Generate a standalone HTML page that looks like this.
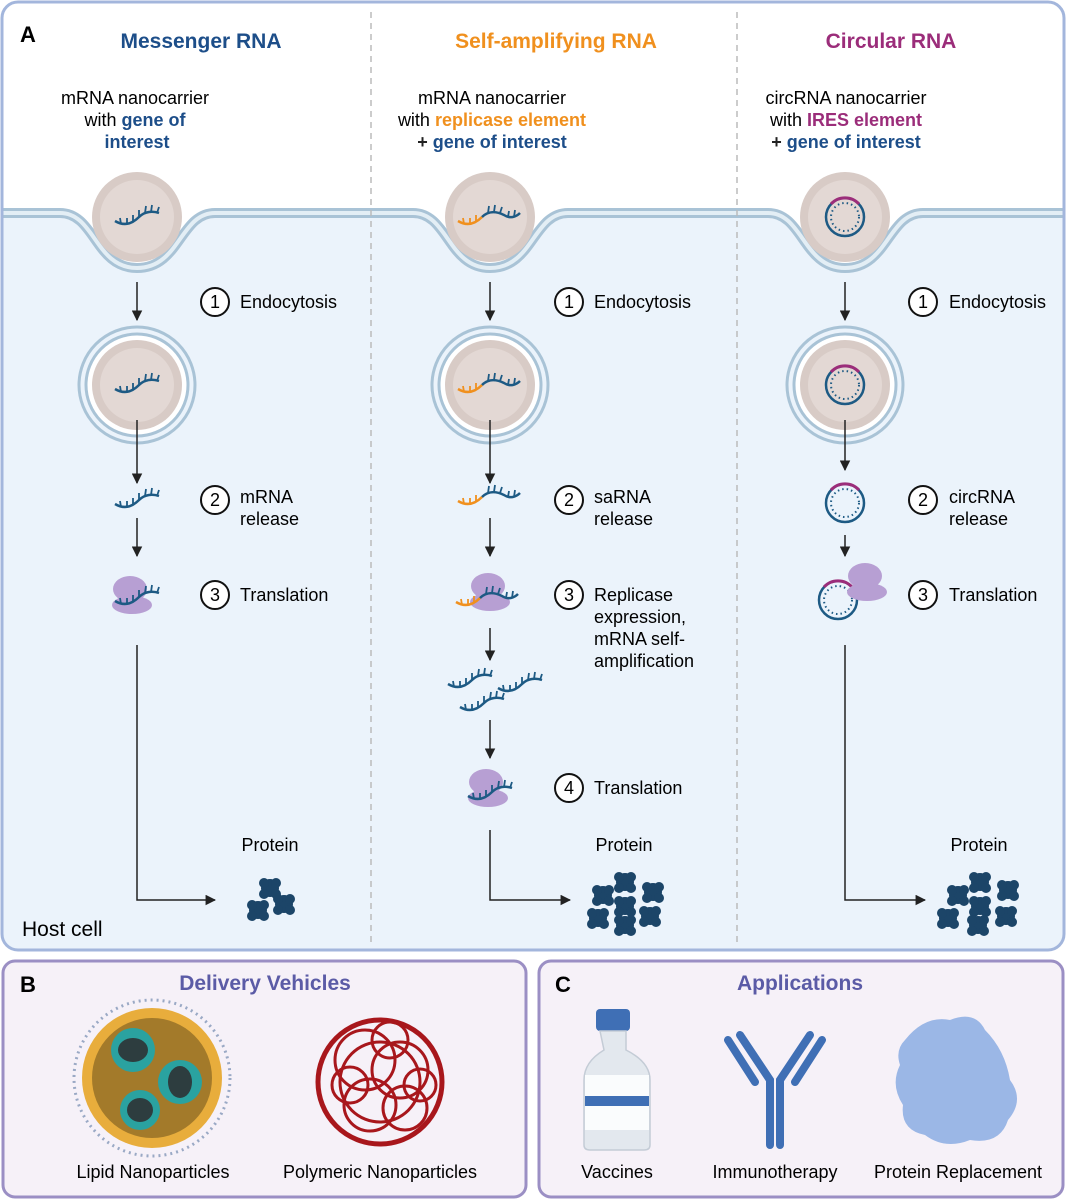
<!DOCTYPE html>
<html><head><meta charset="utf-8"><style>
html,body{margin:0;padding:0;background:#fff}
svg{display:block}
text{font-family:"Liberation Sans",sans-serif}
</style></head><body>
<svg width="1067" height="1200" viewBox="0 0 1067 1200" xmlns="http://www.w3.org/2000/svg">
<defs>
<marker id="ah" viewBox="0 0 10 10" refX="9" refY="5" markerWidth="7" markerHeight="7" orient="auto"><path d="M0,0 L10,5 L0,10 z" fill="#222"/></marker>
<clipPath id="pa"><rect x="2" y="2" width="1062" height="948" rx="16"/></clipPath>
<g id="rna"><path d="M-22,4 C-12,10 -4,6 2,0 C8,-6 16,-6 22,-4" fill="none" stroke="#1d5a84" stroke-width="2.5"/>
<path d="M-16,7 l-1,-6 M-10,7 l0,-6 M-4,4 l0,-6 M2,0 l0,-7 M8,-4 l1,-7 M14,-5 l1,-7 M20,-4 l2,-6" stroke="#1d5a84" stroke-width="1.8"/></g>
<g id="rnaO"><path d="M-22,4 C-12,10 -4,6 2,0" fill="none" stroke="#f0901e" stroke-width="2.5"/>
<path d="M-16,7 l-1,-6 M-10,7 l0,-6 M-4,4 l0,-6" stroke="#f0901e" stroke-width="1.8"/>
<path d="M2,0 C8,-6 16,-6 24,-2 C30,2 36,0 40,-4" fill="none" stroke="#1d5a84" stroke-width="2.5"/>
<path d="M8,-4 l1,-7 M14,-5 l1,-7 M20,-4 l2,-6 M28,0 l1,-6 M34,0 l1,-7" stroke="#1d5a84" stroke-width="1.8"/></g>
<g id="circ"><circle r="19" fill="none" stroke="#1d5a84" stroke-width="2.5"/><path d="M-14,-13 A19,19 0 0 1 14,-13" fill="none" stroke="#9b2d7a" stroke-width="3"/><circle r="14" fill="none" stroke="#1d5a84" stroke-width="2" stroke-dasharray="1.5 3"/></g>
<g id="np"><circle r="45" fill="#d8cbc6"/><circle r="37" fill="#e3d8d4"/></g>
<g id="endo"><circle r="58" fill="none" stroke="#a9c3d6" stroke-width="3"/><circle r="51" fill="#fff" stroke="#a9c3d6" stroke-width="3"/><use href="#np"/></g>
<g id="ribo"><ellipse cx="0" cy="-6" rx="17" ry="13" fill="#b79fd3"/><ellipse cx="2" cy="10" rx="20" ry="9" fill="#b79fd3"/></g>
<g id="prot"><circle r="9" fill="#1c4568"/><circle cx="-6" cy="-5" r="5" fill="#1c4568"/><circle cx="6" cy="-5" r="5" fill="#1c4568"/><circle cx="6" cy="6" r="5" fill="#1c4568"/><circle cx="-6" cy="6" r="5" fill="#1c4568"/></g>
</defs>

<!-- Panel A -->
<rect x="2" y="2" width="1062" height="948" rx="16" fill="#fff"/>
<g clip-path="url(#pa)">
<path d="M0,213 H60 C95,213 95,268 137,268 C180,268 180,213 215,213 H413 C448,213 448,268 490,268 C533,268 533,213 568,213 H768 C803,213 803,268 845,268 C888,268 888,213 923,213 H1067 V960 H0 Z" fill="#ebf3fb"/>
<path d="M0,213 H60 C95,213 95,268 137,268 C180,268 180,213 215,213 H413 C448,213 448,268 490,268 C533,268 533,213 568,213 H768 C803,213 803,268 845,268 C888,268 888,213 923,213 H1067" fill="none" stroke="#a9c3d6" stroke-width="10"/>
<path d="M0,213 H60 C95,213 95,268 137,268 C180,268 180,213 215,213 H413 C448,213 448,268 490,268 C533,268 533,213 568,213 H768 C803,213 803,268 845,268 C888,268 888,213 923,213 H1067" fill="none" stroke="#e3eef5" stroke-width="4"/>
</g>
<line x1="371" y1="12" x2="371" y2="945" stroke="#bbb" stroke-width="1.5" stroke-dasharray="6 5"/>
<line x1="737" y1="12" x2="737" y2="945" stroke="#bbb" stroke-width="1.5" stroke-dasharray="6 5"/>
<rect x="2" y="2" width="1062" height="948" rx="16" fill="none" stroke="#a3b6dc" stroke-width="3"/>

<text x="20" y="42" font-size="22" font-weight="bold">A</text>
<text x="201" y="48" font-size="21" font-weight="bold" fill="#1d4e89" text-anchor="middle">Messenger RNA</text>
<text x="556" y="48" font-size="21" font-weight="bold" fill="#f0901e" text-anchor="middle">Self-amplifying RNA</text>
<text x="891" y="48" font-size="21" font-weight="bold" fill="#9b2d7a" text-anchor="middle">Circular RNA</text>

<g font-size="18" text-anchor="middle">
<text x="135" y="104">mRNA nanocarrier</text>
<text x="135" y="126">with <tspan font-weight="bold" fill="#1d4e89">gene of</tspan></text>
<text x="137" y="148" font-weight="bold" fill="#1d4e89">interest</text>
<text x="492" y="104">mRNA nanocarrier</text>
<text x="492" y="126">with <tspan font-weight="bold" fill="#f0901e">replicase element</tspan></text>
<text x="492" y="148" font-weight="bold"><tspan fill="#222">+ </tspan><tspan fill="#1d4e89">gene of interest</tspan></text>
<text x="846" y="104">circRNA nanocarrier</text>
<text x="846" y="126">with <tspan font-weight="bold" fill="#9b2d7a">IRES element</tspan></text>
<text x="846" y="148" font-weight="bold"><tspan fill="#222">+ </tspan><tspan fill="#1d4e89">gene of interest</tspan></text>
</g>

<!-- nanocarriers top -->
<use href="#np" x="137" y="217"/><use href="#rna" x="137" y="217"/>
<use href="#np" x="490" y="217"/><use href="#rnaO" x="480" y="217"/>
<use href="#np" x="845" y="217"/><use href="#circ" x="845" y="217"/>

<!-- endosomes -->
<use href="#endo" x="137" y="385"/><use href="#rna" x="137" y="385"/>
<use href="#endo" x="490" y="385"/><use href="#rnaO" x="480" y="385"/>
<use href="#endo" x="845" y="385"/><use href="#circ" x="845" y="385"/>

<!-- arrows -->
<g stroke="#222" stroke-width="1.5" fill="none" marker-end="url(#ah)">
<line x1="137" y1="282" x2="137" y2="320"/>
<line x1="137" y1="420" x2="137" y2="483"/>
<line x1="137" y1="518" x2="137" y2="556"/>
<path d="M137,645 V900 H215"/>
<line x1="490" y1="282" x2="490" y2="320"/>
<line x1="490" y1="420" x2="490" y2="483"/>
<line x1="490" y1="518" x2="490" y2="556"/>
<line x1="490" y1="628" x2="490" y2="660"/>
<line x1="490" y1="720" x2="490" y2="758"/>
<path d="M490,830 V900 H570"/>
<line x1="845" y1="282" x2="845" y2="320"/>
<line x1="845" y1="420" x2="845" y2="470"/>
<line x1="845" y1="535" x2="845" y2="556"/>
<path d="M845,645 V900 H925"/>
</g>

<!-- step markers -->
<g font-size="18">
<circle cx="215" cy="302" r="14" fill="#fff" stroke="#111" stroke-width="2"/><text x="215" y="308" text-anchor="middle">1</text><text x="240" y="308">Endocytosis</text>
<circle cx="215" cy="500" r="14" fill="#fff" stroke="#111" stroke-width="2"/><text x="215" y="506" text-anchor="middle">2</text><text x="240" y="503">mRNA</text><text x="240" y="525">release</text>
<circle cx="215" cy="595" r="14" fill="#fff" stroke="#111" stroke-width="2"/><text x="215" y="601" text-anchor="middle">3</text><text x="240" y="601">Translation</text>
<text x="270" y="851" text-anchor="middle">Protein</text>

<circle cx="569" cy="302" r="14" fill="#fff" stroke="#111" stroke-width="2"/><text x="569" y="308" text-anchor="middle">1</text><text x="594" y="308">Endocytosis</text>
<circle cx="569" cy="500" r="14" fill="#fff" stroke="#111" stroke-width="2"/><text x="569" y="506" text-anchor="middle">2</text><text x="594" y="503">saRNA</text><text x="594" y="525">release</text>
<circle cx="569" cy="595" r="14" fill="#fff" stroke="#111" stroke-width="2"/><text x="569" y="601" text-anchor="middle">3</text><text x="594" y="601">Replicase</text><text x="594" y="623">expression,</text><text x="594" y="645">mRNA self-</text><text x="594" y="667">amplification</text>
<circle cx="569" cy="788" r="14" fill="#fff" stroke="#111" stroke-width="2"/><text x="569" y="794" text-anchor="middle">4</text><text x="594" y="794">Translation</text>
<text x="624" y="851" text-anchor="middle">Protein</text>

<circle cx="923" cy="302" r="14" fill="#fff" stroke="#111" stroke-width="2"/><text x="923" y="308" text-anchor="middle">1</text><text x="949" y="308">Endocytosis</text>
<circle cx="923" cy="500" r="14" fill="#fff" stroke="#111" stroke-width="2"/><text x="923" y="506" text-anchor="middle">2</text><text x="949" y="503">circRNA</text><text x="949" y="525">release</text>
<circle cx="923" cy="595" r="14" fill="#fff" stroke="#111" stroke-width="2"/><text x="923" y="601" text-anchor="middle">3</text><text x="949" y="601">Translation</text>
<text x="979" y="851" text-anchor="middle">Protein</text>
</g>
<text x="22" y="936" font-size="21">Host cell</text>

<!-- col1 items -->
<use href="#rna" x="137" y="500"/>
<use href="#ribo" x="130" y="595"/><use href="#rna" x="137" y="597"/>
<use href="#prot" x="258" y="910"/><use href="#prot" x="284" y="904"/><use href="#prot" x="270" y="888"/>
<!-- col2 items -->
<use href="#rnaO" x="480" y="497"/>
<use href="#ribo" x="488" y="592"/><use href="#rnaO" x="478" y="598"/>
<use href="#rna" x="470" y="680"/><use href="#rna" x="520" y="684"/><use href="#rna" x="482" y="703"/>
<use href="#ribo" x="486" y="788"/><use href="#rna" x="490" y="792"/>
<use href="#prot" x="603" y="895"/><use href="#prot" x="625" y="882"/><use href="#prot" x="653" y="892"/><use href="#prot" x="625" y="906"/><use href="#prot" x="598" y="918"/><use href="#prot" x="650" y="916"/><use href="#prot" x="625" y="925"/>
<!-- col3 items -->
<use href="#circ" x="845" y="503"/>
<use href="#circ" x="838" y="600"/><use href="#ribo" x="865" y="582"/>
<use href="#prot" x="958" y="895"/><use href="#prot" x="980" y="882"/><use href="#prot" x="1008" y="890"/><use href="#prot" x="980" y="906"/><use href="#prot" x="948" y="918"/><use href="#prot" x="1006" y="916"/><use href="#prot" x="978" y="925"/>

<!-- Panel B -->
<rect x="3" y="961" width="523" height="236" rx="12" fill="#f6f1f8" stroke="#9b8fc4" stroke-width="3"/>
<text x="20" y="992" font-size="22" font-weight="bold">B</text>
<text x="265" y="990" font-size="21" font-weight="bold" fill="#5b5ba6" text-anchor="middle">Delivery Vehicles</text>
<circle cx="152" cy="1078" r="78" fill="none" stroke="#9aa9c5" stroke-width="3" stroke-dasharray="2 4"/>
<circle cx="152" cy="1078" r="70" fill="#e8ad3c"/>
<circle cx="152" cy="1078" r="60" fill="#a37a2a"/>
<circle cx="133" cy="1050" r="22" fill="#2aa2a0"/><ellipse cx="133" cy="1050" rx="15" ry="12" fill="#2d3d3f"/>
<circle cx="180" cy="1082" r="22" fill="#2aa2a0"/><ellipse cx="180" cy="1082" rx="12" ry="16" fill="#2d3d3f"/>
<circle cx="140" cy="1110" r="20" fill="#2aa2a0"/><ellipse cx="140" cy="1110" rx="13" ry="12" fill="#2d3d3f"/>
<g fill="none" stroke="#a8171c" stroke-width="3">
<circle cx="380" cy="1082" r="62" stroke-width="5"/>
<circle cx="365" cy="1060" r="30"/><circle cx="400" cy="1070" r="28"/><circle cx="370" cy="1105" r="26"/><circle cx="405" cy="1108" r="22"/>
<circle cx="350" cy="1085" r="18"/><circle cx="390" cy="1040" r="18"/><circle cx="420" cy="1085" r="16"/><circle cx="380" cy="1082" r="40"/>
</g>
<text x="153" y="1178" font-size="18" text-anchor="middle">Lipid Nanoparticles</text>
<text x="380" y="1178" font-size="18" text-anchor="middle">Polymeric Nanoparticles</text>

<!-- Panel C -->
<rect x="539" y="961" width="524" height="236" rx="12" fill="#f6f1f8" stroke="#9b8fc4" stroke-width="3"/>
<text x="555" y="992" font-size="22" font-weight="bold">C</text>
<text x="800" y="990" font-size="21" font-weight="bold" fill="#5b5ba6" text-anchor="middle">Applications</text>
<rect x="596" y="1009" width="34" height="22" rx="4" fill="#3f6fb5"/>
<path d="M600,1031 H626 V1050 Q650,1062 650,1080 V1145 Q650,1150 644,1150 H590 Q584,1150 584,1145 V1080 Q584,1062 604,1050 Z" fill="#e3e8ee" stroke="#c4ccd6" stroke-width="1.5"/>
<rect x="585" y="1075" width="64" height="55" fill="#fafcfd"/>
<rect x="585" y="1096" width="64" height="10" fill="#3f6fb5"/>
<g stroke="#3f6fb5" stroke-linecap="round" fill="none">
<path d="M770,1145 V1080 L740,1035 M780,1145 V1080 L810,1035" stroke-width="8"/>
<path d="M728,1040 L755,1082 M822,1040 L795,1082" stroke-width="8"/>
</g>
<path d="M905,1040 Q925,1015 950,1020 Q975,1010 985,1030 Q1005,1050 1010,1080 Q1025,1100 1008,1120 Q1000,1145 970,1140 Q945,1150 925,1135 Q900,1130 903,1105 Q890,1085 900,1065 Q895,1050 905,1040 Z" fill="#9bb7e6"/>
<text x="617" y="1178" font-size="18" text-anchor="middle">Vaccines</text>
<text x="775" y="1178" font-size="18" text-anchor="middle">Immunotherapy</text>
<text x="958" y="1178" font-size="18" text-anchor="middle">Protein Replacement</text>
</svg>
</body></html>
